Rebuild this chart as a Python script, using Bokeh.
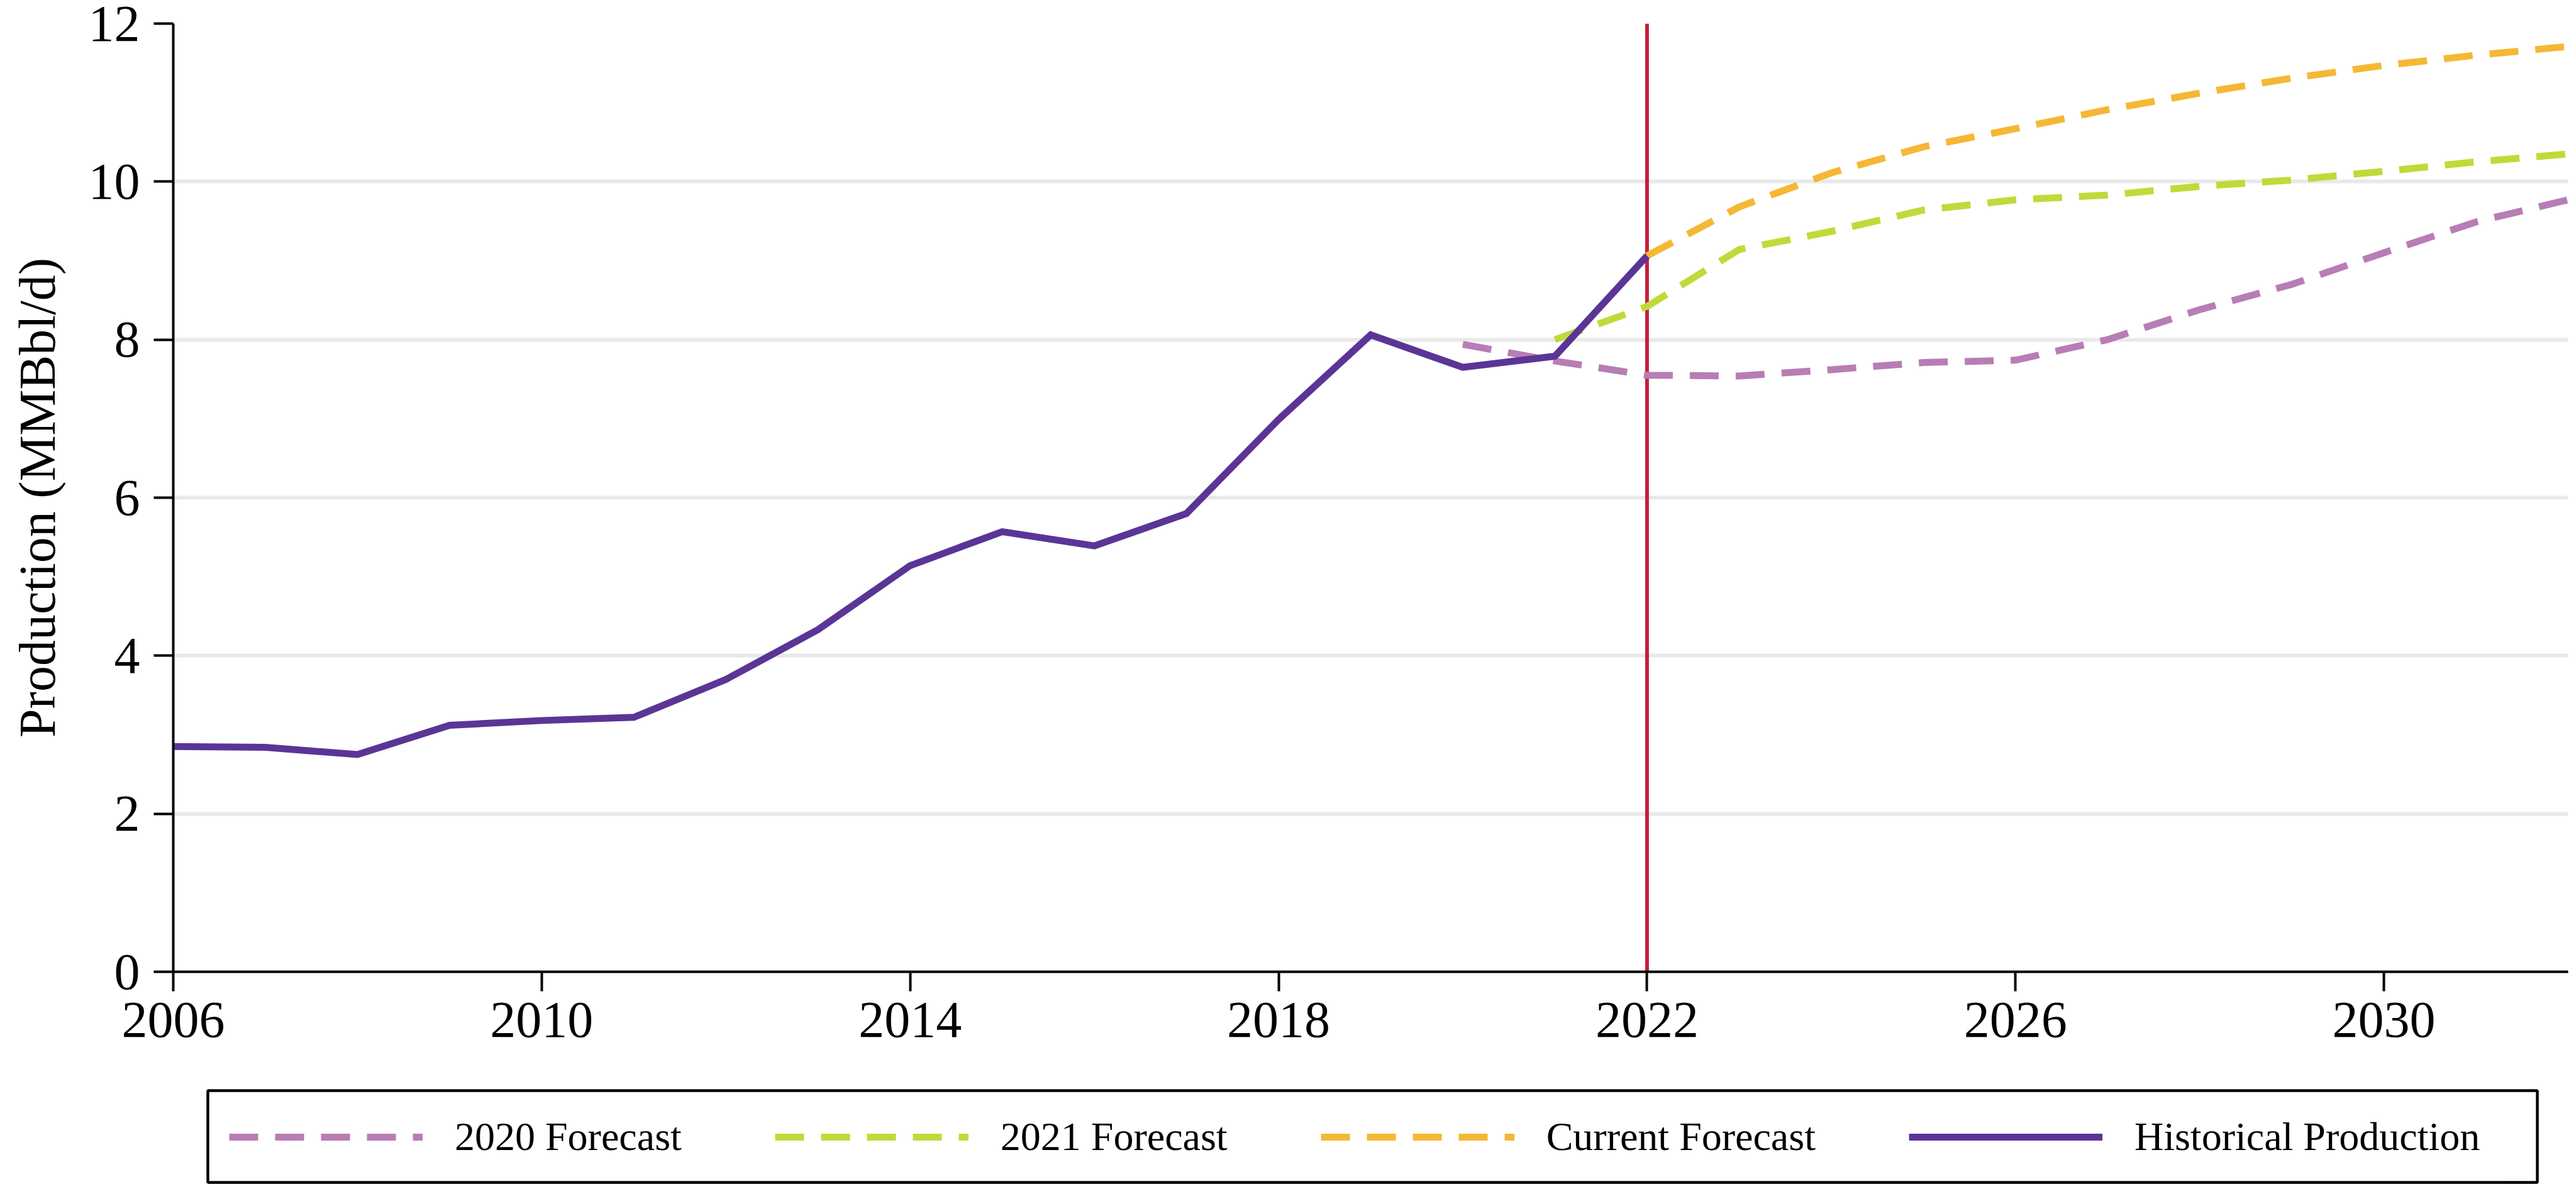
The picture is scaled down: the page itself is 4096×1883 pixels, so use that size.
from bokeh.plotting import figure
from bokeh.layouts import column
from bokeh.models import (FixedTicker, Span, Label, Legend, LegendItem, Range1d,
                          BoxAnnotation)
from bokeh.embed import file_html
from bokeh.resources import INLINE

# Gulf Coast crude production, MMBbl/d
hist_years = list(range(2006, 2023))
hist_values = [2.85, 2.84, 2.75, 3.12, 3.18, 3.22, 3.70, 4.33, 5.14, 5.57,
               5.39, 5.80, 6.99, 8.06, 7.65, 7.79, 9.06]

f2020_years = list(range(2020, 2033))
f2020_values = [7.94, 7.73, 7.55, 7.54, 7.62, 7.71, 7.74, 8.00, 8.38, 8.70,
                9.10, 9.49, 9.77]

f2021_years = list(range(2021, 2033))
f2021_values = [8.00, 8.42, 9.14, 9.37, 9.64, 9.77, 9.83, 9.94, 10.02, 10.13,
                10.25, 10.35]

current_years = list(range(2022, 2033))
current_values = [9.06, 9.68, 10.11, 10.44, 10.67, 10.91, 11.12, 11.31, 11.47,
                  11.60, 11.71]

x_ticks = [2006, 2010, 2014, 2018, 2022, 2026, 2030]
y_ticks = [0, 2, 4, 6, 8, 10, 12]
x_start, x_end = 2006, 2032
y_start, y_end = 0, 12
divider_year = 2022

series_names = ["2020 Forecast", "2021 Forecast", "Current Forecast",
                "Historical Production"]
series_colors = ["#b87db5", "#c2d93a", "#f5b835", "#5b3596"]
series_dashes = ["46 27", "46 27", "46 27", "solid"]
title_text = "Gulf Coast"
y_label = "Production (MMBbl/d)"

FONT = "Liberation Serif"
LW = 11

p = figure(width=4096, height=1720, output_backend="svg", toolbar_location=None,
           x_range=Range1d(x_start, x_end), y_range=Range1d(y_start, y_end),
           min_border_left=275, min_border_right=13, min_border_top=37,
           min_border_bottom=175)
p.outline_line_color = None
p.background_fill_color = "white"
p.border_fill_color = "white"

# axes
for ax in (p.xaxis[0], p.yaxis[0]):
    ax.axis_line_color = "black"
    ax.axis_line_width = 4
    ax.major_tick_line_color = "black"
    ax.major_tick_line_width = 4
    ax.major_tick_in = 0
    ax.minor_tick_line_color = None
    ax.major_label_text_font = FONT
    ax.major_label_text_font_size = "82px"
    ax.major_label_text_color = "black"

p.xaxis[0].ticker = FixedTicker(ticks=x_ticks)
p.xaxis[0].major_tick_out = 31
p.xaxis[0].major_label_standoff = 18

p.yaxis[0].ticker = FixedTicker(ticks=y_ticks)
p.yaxis[0].major_tick_out = 31
p.yaxis[0].major_label_standoff = 22
p.yaxis[0].axis_label = y_label
p.yaxis[0].axis_label_text_font = FONT
p.yaxis[0].axis_label_text_font_size = "82px"
p.yaxis[0].axis_label_text_font_style = "normal"
p.yaxis[0].axis_label_text_color = "black"
p.yaxis[0].axis_label_standoff = 33

p.xgrid.visible = False
p.ygrid.ticker = FixedTicker(ticks=y_ticks)
p.ygrid.grid_line_color = "#e9e9e9"
p.ygrid.grid_line_width = 6

# reference year marker, drawn beneath the series
p.add_layout(Span(location=divider_year, dimension="height", line_color="#c41e3a",
                  line_width=6, level="underlay"))

series = [(f2020_years, f2020_values), (f2021_years, f2021_values),
          (current_years, current_values), (hist_years, hist_values)]
for (xs, ys), color, dash in zip(series, series_colors, series_dashes):
    p.line(xs, ys, line_color=color, line_width=LW, line_dash=dash,
           line_cap="butt", line_join="miter")

# chart title, sitting at the very top edge
p.add_layout(Label(x=1912, y=1538, x_units="screen", y_units="screen",
                   text=title_text, text_font=FONT, text_font_size="81px",
                   text_font_style="bold", text_align="center",
                   text_baseline="alphabetic", text_color="black"))

# key strip underneath the chart; its view range sits away from the data,
# so only the legend samples of these lines show
key = figure(width=4096, height=163, output_backend="svg", toolbar_location=None,
             x_range=Range1d(0, 1), y_range=Range1d(0, 1),
             x_axis_location=None, y_axis_location=None,
             min_border_left=275, min_border_right=13, min_border_top=0,
             min_border_bottom=0)
key.outline_line_color = None
key.grid.visible = False
key_items = []
for (xs, ys), name, color, dash in zip(series, series_names, series_colors,
                                       series_dashes):
    r = key.line(xs, ys, line_color=color, line_width=LW, line_dash=dash,
                 line_cap="butt")
    key_items.append(LegendItem(label=name, renderers=[r]))

# frame around the key
key.add_layout(BoxAnnotation(left=55, right=3759, bottom=3, top=149,
                             left_units="screen", right_units="screen",
                             bottom_units="screen", top_units="screen",
                             fill_color=None, fill_alpha=0,
                             line_color="black", line_width=4.5,
                             line_alpha=1.0))

# the legend keeps its padding but draws no visible border or fill of its own
legend = Legend(
    items=key_items, orientation="horizontal", location=(55, 1), margin=0,
    padding=33, spacing=148, glyph_width=308, glyph_height=80, label_height=80,
    label_standoff=51, label_text_font=FONT, label_text_font_size="64px",
    label_text_color="black", label_text_baseline="middle",
    border_line_color="white", border_line_alpha=0.01, border_line_width=1,
    background_fill_color=None)
key.add_layout(legend, "center")

layout = column(p, key, spacing=0)
open("out.html", "w").write(file_html(layout, INLINE))
